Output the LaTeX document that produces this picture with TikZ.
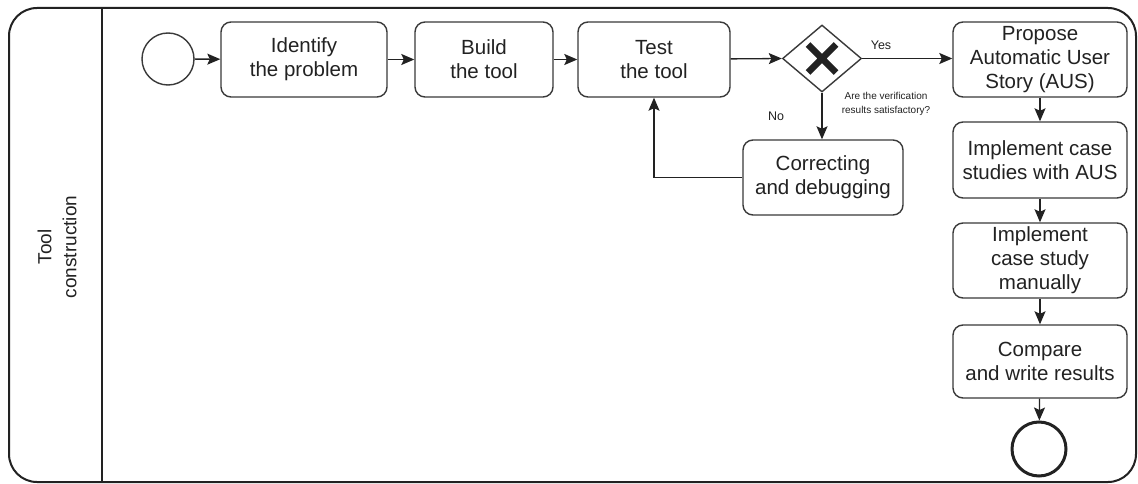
\documentclass[tikz,border=0pt]{standalone}
\usepackage{fontspec}
\setmainfont{Liberation Sans}
\usetikzlibrary{arrows.meta,shapes.geometric}
\begin{document}
\definecolor{ink}{HTML}{222222}
\definecolor{edge}{HTML}{3A3A3A}
\tikzset{
  task/.style={draw=edge, line width=1.4pt, rounded corners=10pt, align=center,
    inner sep=0pt, text=ink, font=\fontsize{20.5}{24}\selectfont},
  event/.style={draw=edge, circle, inner sep=0pt, line width=1.4pt},
  gateway/.style={draw=edge, diamond, inner sep=0pt, line width=1.4pt,
    minimum width=79pt, minimum height=67pt},
  flow/.style={draw=ink, line width=1.3pt,
    -{Stealth[length=13pt,width=11pt,inset=2.5pt]}},
  small/.style={text=ink, font=\fontsize{12.5}{14}\selectfont, inner sep=0pt},
  tiny/.style={text=ink, font=\fontsize{10}{13.5}\selectfont, inner sep=0pt, align=center}
}
\begin{tikzpicture}[x=1pt,y=-1pt]
\useasboundingbox (0,0) rectangle (1138,484);
\fill[white] (0,0) rectangle (1138,484);

% pool with its single lane
\draw[line width=2pt, draw=ink, rounded corners=28pt] (9,8) rectangle (1136,482);
\draw[line width=2pt, draw=ink] (102,8) -- (102,482);
\node[rotate=90, align=center, text=ink, font=\fontsize{19}{25}\selectfont]
  (lane) at (57,247) {Tool\\construction};

% events
\node[event, minimum size=52pt] (start) at (168,59) {};
\node[event, minimum size=54pt, line width=3pt, draw=ink] (finish) at (1039,449) {};

% tasks
\node[task, minimum width=166pt, minimum height=75pt] (identify) at (304,59.5) {Identify\\the problem};
\node[task, minimum width=138pt, minimum height=75pt] (build) at (484,59.5) {Build\\the tool};
\node[task, minimum width=152pt, minimum height=75pt] (test) at (654,59.5) {Test\\the tool};
\node[task, minimum width=160pt, minimum height=75pt] (correct) at (823,177.5) {Correcting\\and debugging};
\node[task, minimum width=174pt, minimum height=75pt] (propose) at (1040,59.5) {Propose\\Automatic User\\Story (AUS)};
\node[task, minimum width=174pt, minimum height=76pt] (implaus) at (1040,160) {Implement case\\studies with AUS};
\node[task, minimum width=174pt, minimum height=75pt] (implman) at (1040,260.5) {Implement\\case study\\manually};
\node[task, minimum width=174pt, minimum height=73pt] (compare) at (1040,361.5) {Compare\\and write results};

% exclusive gateway
\node[gateway] (gate) at (822,58.5) {};
\draw[line width=6.5pt, draw=ink] ([shift={(-14,-14)}]gate.center) -- ([shift={(14,14)}]gate.center)
  ([shift={(-14,14)}]gate.center) -- ([shift={(14,-14)}]gate.center);

% sequence flows
\draw[flow] (start) -- (identify);
\draw[flow] (identify) -- (build);
\draw[flow] (build) -- (test);
\draw[flow] (test) -- (gate.west);
\draw[flow] (gate.east) -- (propose.west |- gate.east);
\draw[flow] (gate.south) -- (gate.south |- correct.north);
\draw[flow] (correct.west) -| (test.south);
\draw[flow] (propose) -- (implaus);
\draw[flow] (implaus) -- (implman);
\draw[flow] (implman) -- (compare);
\draw[flow] (compare) -- (finish);

% gateway labels
\node[small] (yes) at (881,45) {Yes};
\node[small] (no) at (776,116) {No};
\node[tiny] (question) at (886,104) {Are the verification\\results satisfactory?};
\end{tikzpicture}
\end{document}
